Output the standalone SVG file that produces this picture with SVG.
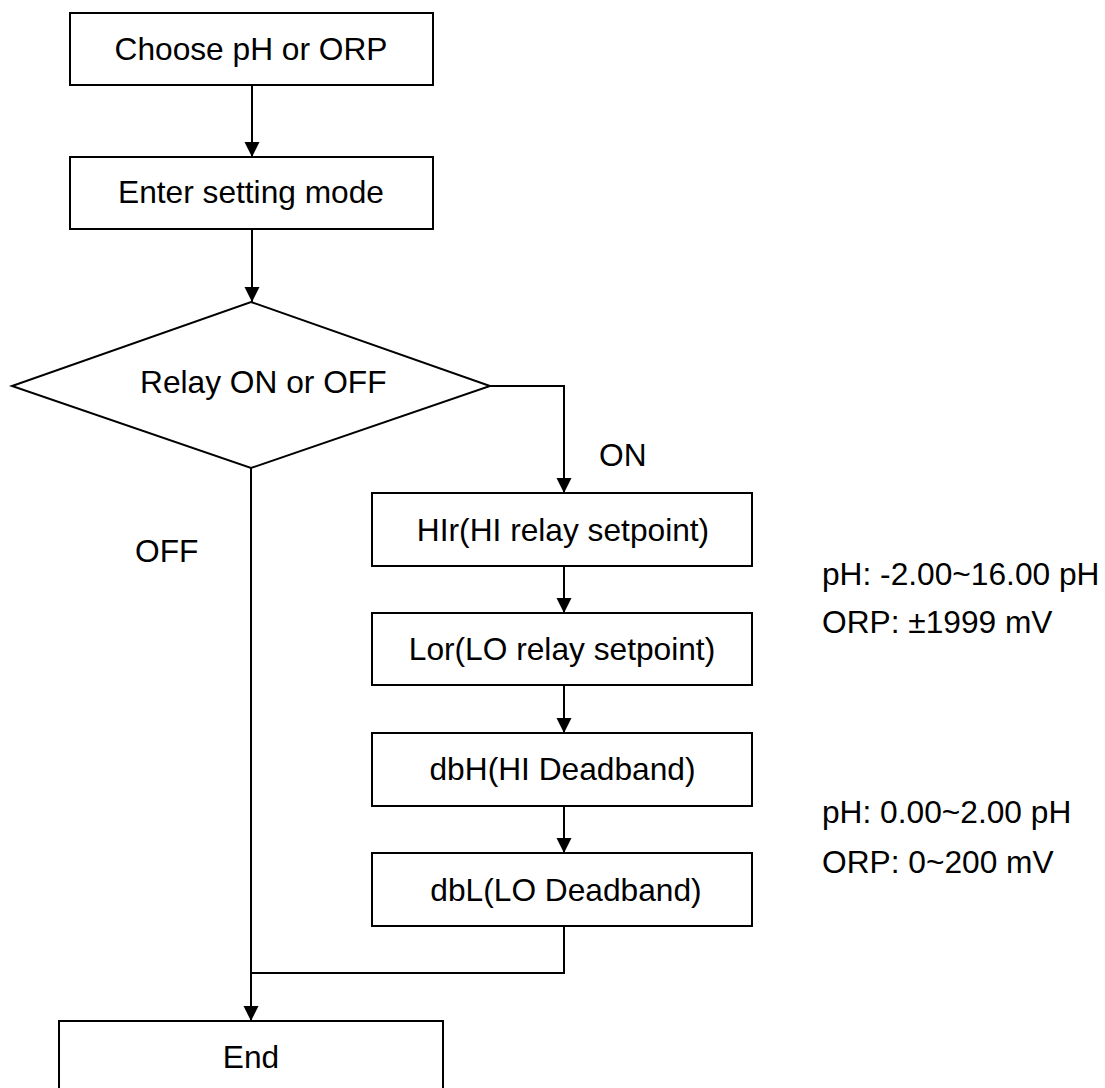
<svg xmlns="http://www.w3.org/2000/svg" width="1105" height="1088" viewBox="0 0 1105 1088">
<defs>
<style>
.box{fill:#fff;stroke:#000;stroke-width:2}
.t{font-family:"Liberation Sans",Arial,sans-serif;font-size:31.7px;fill:#000}
.m{text-anchor:middle}
.c{fill:none;stroke:#000;stroke-width:2}
</style>
<marker id="ah" markerUnits="userSpaceOnUse" markerWidth="16" markerHeight="16" refX="15" refY="7.5" orient="auto" viewBox="0 0 16 16">
<path d="M0,0 L15,7.5 L0,15 z" fill="#000"/>
</marker>
</defs>
<rect width="1105" height="1088" fill="#fff"/>
<g id="connectors">
<path class="c" d="M252,85 V157" marker-end="url(#ah)"/>
<path class="c" d="M252,229 V302" marker-end="url(#ah)"/>
<path class="c" d="M490,386 H564 V493" marker-end="url(#ah)"/>
<path class="c" d="M564,566 V613" marker-end="url(#ah)"/>
<path class="c" d="M564,685 V733" marker-end="url(#ah)"/>
<path class="c" d="M564,806 V853" marker-end="url(#ah)"/>
<path class="c" d="M251,468 V1021" marker-end="url(#ah)"/>
<path class="c" d="M564,926 V973 H251"/>
</g>
<g id="n-choose">
<rect class="box" x="70" y="13" width="363" height="72"/>
<text class="t m" x="251" y="60">Choose pH or ORP</text>
</g>
<g id="n-enter">
<rect class="box" x="70" y="157" width="363" height="72"/>
<text class="t m" x="251" y="203">Enter setting mode</text>
</g>
<g id="n-relay">
<polygon class="box" points="251,302 490,386 251,468 12,386"/>
<text class="t" x="140" y="393">Relay ON or OFF</text>
</g>
<g id="n-hir">
<rect class="box" x="372" y="493" width="380" height="73"/>
<text class="t m" x="563" y="541">HIr(HI relay setpoint)</text>
</g>
<g id="n-lor">
<rect class="box" x="372" y="613" width="380" height="72"/>
<text class="t m" x="562" y="660">Lor(LO relay setpoint)</text>
</g>
<g id="n-dbh">
<rect class="box" x="372" y="733" width="380" height="73"/>
<text class="t m" x="562.5" y="780">dbH(HI Deadband)</text>
</g>
<g id="n-dbl">
<rect class="box" x="372" y="853" width="380" height="73"/>
<text class="t m" x="566" y="901">dbL(LO Deadband)</text>
</g>
<g id="n-end">
<rect class="box" x="59" y="1021" width="384" height="80"/>
<text class="t m" x="251" y="1068">End</text>
</g>
<g id="labels">
<text class="t" x="599" y="466">ON</text>
<text class="t" x="135" y="562">OFF</text>
<text class="t" x="822" y="585">pH: -2.00~16.00 pH</text>
<text class="t" x="822" y="633">ORP: ±1999 mV</text>
<text class="t" x="822" y="823">pH: 0.00~2.00 pH</text>
<text class="t" x="822" y="873">ORP: 0~200 mV</text>
</g>
</svg>
